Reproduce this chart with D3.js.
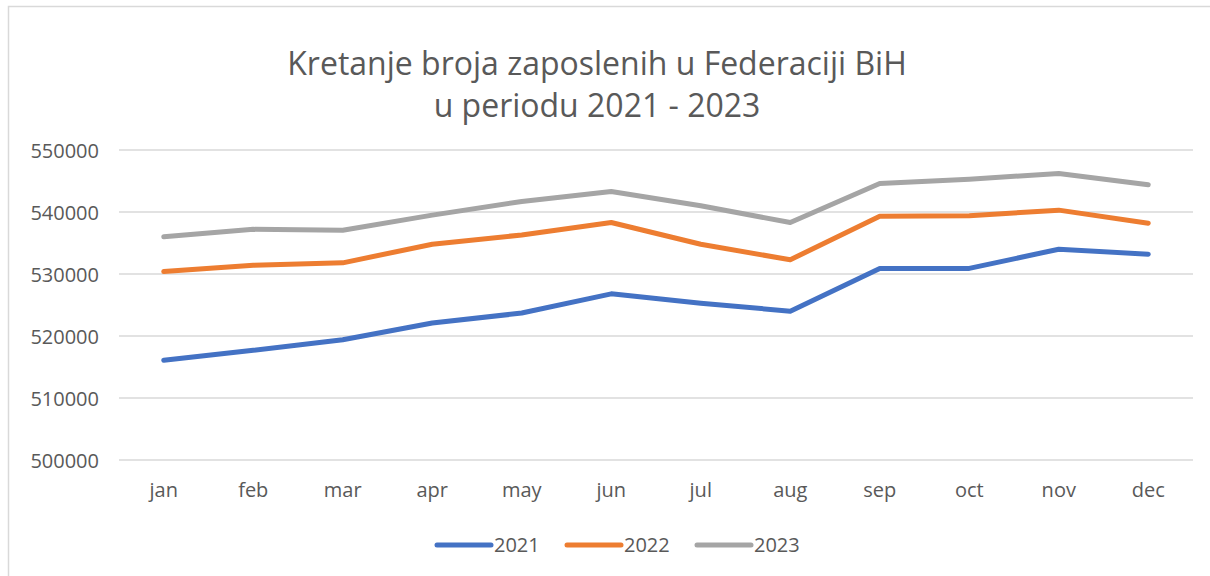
<!DOCTYPE html>
<meta charset="utf-8">
<style>
body { margin: 0; background: #fff; }
text { font-family: "Open Sans", "Liberation Sans", sans-serif; fill: #595959; }
.grid line { stroke: #d9d9d9; stroke-width: 1.5; }
.line { fill: none; stroke-width: 5; stroke-linejoin: round; stroke-linecap: round; }
</style>
<body>
<script src="https://cdn.jsdelivr.net/npm/d3@7"></script>
<script>

// data
var months = ["jan", "feb", "mar", "apr", "may", "jun", "jul", "aug", "sep", "oct", "nov", "dec"];
var y2021 = [516100, 517700, 519400, 522100, 523700, 526800, 525300, 524000, 530900, 530900, 534000, 533200];
var y2022 = [530400, 531400, 531800, 534800, 536300, 538300, 534800, 532300, 539300, 539400, 540300, 538200];
var y2023 = [536000, 537200, 537050, 539500, 541700, 543300, 541000, 538300, 544600, 545300, 546200, 544400];
var yTicks = [500000, 510000, 520000, 530000, 540000, 550000];
var seriesNames = ["2021", "2022", "2023"];
var colors = ["#4472c4", "#ed7d31", "#a5a5a5"];

var series = [y2021, y2022, y2023];

var width = 1210, height = 576;
var margin = {top: 150, right: 17, bottom: 116, left: 119};

var svg = d3.select("body").append("svg")
    .attr("width", width)
    .attr("height", height);

// chart border
svg.append("rect")
    .attr("x", 8.5).attr("y", 6.5)
    .attr("width", width + 20).attr("height", height + 20)
    .attr("fill", "none")
    .attr("stroke", "#d9d9d9")
    .attr("stroke-width", 1.5);

var x = d3.scaleBand()
    .domain(months)
    .range([margin.left, width - margin.right]);

var y = d3.scaleLinear()
    .domain([500000, 550000])
    .range([height - margin.bottom, margin.top]);

// title
var title = svg.append("text")
    .attr("text-anchor", "middle")
    .style("font-size", "32px");
title.append("tspan").attr("x", 597).attr("y", 75).text("Kretanje broja zaposlenih u Federaciji BiH");
title.append("tspan").attr("x", 597).attr("y", 117).text("u periodu 2021 - 2023");

// gridlines
svg.append("g")
    .attr("class", "grid")
    .selectAll("line")
    .data(yTicks)
  .enter().append("line")
    .attr("x1", margin.left)
    .attr("x2", width - margin.right)
    .attr("y1", function(d) { return y(d); })
    .attr("y2", function(d) { return y(d); });

// y axis labels
var yAxis = svg.append("g")
    .attr("transform", "translate(" + (margin.left - 20) + ",0)")
    .call(d3.axisLeft(y).tickValues(yTicks).tickSize(0).tickPadding(0).tickFormat(d3.format("d")));
yAxis.select(".domain").remove();
yAxis.selectAll("text").style("font-size", "20px").attr("dy", "0.35em");

// x axis labels
var xAxis = svg.append("g")
    .attr("transform", "translate(0," + (height - margin.bottom) + ")")
    .call(d3.axisBottom(x).tickSize(0).tickPadding(30));
xAxis.select(".domain").remove();
xAxis.selectAll("text").style("font-size", "20px").attr("dy", "0.35em");

var line = d3.line()
    .x(function(d, i) { return x(months[i]) + x.bandwidth() / 2; })
    .y(function(d) { return y(d); });

svg.selectAll(".line")
    .data(series)
  .enter().append("path")
    .attr("class", "line")
    .attr("stroke", function(d, i) { return colors[i]; })
    .attr("d", line);

// legend
var legend = svg.append("g")
    .selectAll("g")
    .data(seriesNames)
  .enter().append("g")
    .attr("transform", function(d, i) { return "translate(" + (437 + i * 130) + ",545)"; });

legend.append("line")
    .attr("x1", 0).attr("x2", 54)
    .attr("stroke", function(d, i) { return colors[i]; })
    .attr("stroke-width", 5)
    .attr("stroke-linecap", "round");

legend.append("text")
    .attr("x", 57)
    .attr("dy", "0.35em")
    .style("font-size", "20px")
    .text(function(d) { return d; });

</script>
</body>
